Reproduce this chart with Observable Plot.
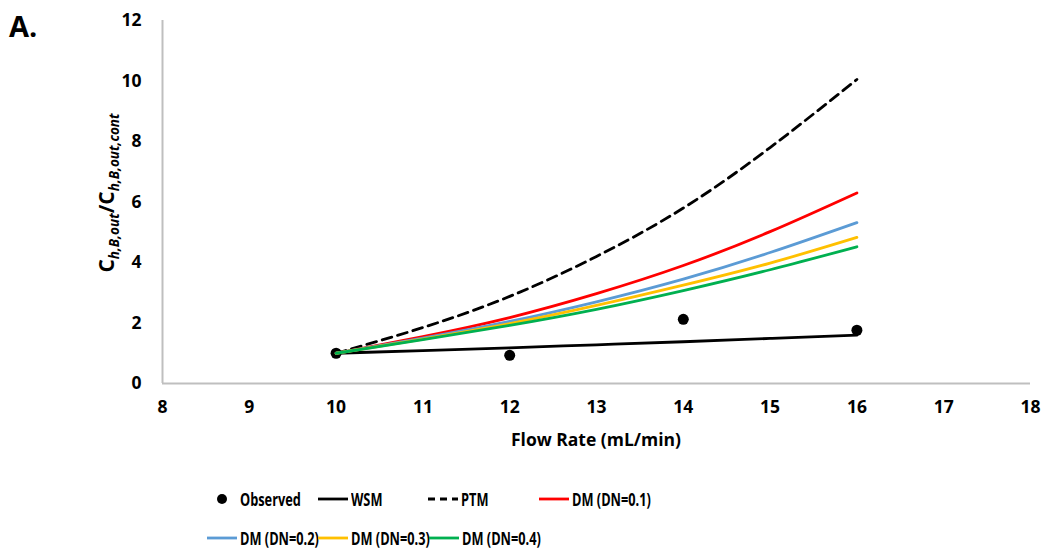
<!DOCTYPE html>
<html>
<head>
<meta charset="utf-8">
<script src="https://cdn.jsdelivr.net/npm/d3@7"></script>
<script src="https://cdn.jsdelivr.net/npm/@observablehq/plot@0.6"></script>
<style>
  body { margin: 0; background: #fff; font-family: "Open Sans", sans-serif; }
  #wrap { position: relative; width: 1044px; height: 549px; }
  #panel { position: absolute; left: 9px; top: 6px; font-size: 29px; font-weight: 700; font-family: "Open Sans", sans-serif; }
  #legend { position: absolute; left: 0; top: 0; width: 1044px; height: 549px; pointer-events: none; }
  .item { position: absolute; display: flex; align-items: center; font-size: 17.5px; font-weight: 700; white-space: nowrap; height: 22px;
          font-family: "Open Sans", sans-serif; }
  .item span { display: inline-block; transform: scaleX(0.73); transform-origin: left center; }
  .sym { width: 30px; height: 22px; margin-right: 3px; position: relative; }
</style>
</head>
<body>
<div id="wrap">
  <div id="chart"></div>
  <div id="panel">A.</div>
  <div id="legend"></div>
</div>
<script>
// ---- data ----
const flow = [10, 11, 12, 13, 14, 15, 16];
const observedFlow = [10, 12, 14, 16];
const observed = [1.0, 0.93, 2.12, 1.76];
const wsm = [1.0, 1.09, 1.18, 1.28, 1.38, 1.49, 1.6];
const ptm = [1.0, 1.85, 2.88, 4.2, 5.8, 7.8, 10.05];
const dm01 = [1.0, 1.55, 2.18, 2.97, 3.9, 5.02, 6.3];
const dm02 = [1.0, 1.5, 2.05, 2.7, 3.45, 4.33, 5.32];
const dm03 = [1.0, 1.47, 1.98, 2.58, 3.25, 3.98, 4.83];
const dm04 = [1.0, 1.45, 1.92, 2.45, 3.07, 3.76, 4.52];
const xTicks = [8, 9, 10, 11, 12, 13, 14, 15, 16, 17, 18];
const yTicks = [0, 2, 4, 6, 8, 10, 12];

const seriesNames = ["WSM", "PTM", "DM (DN=0.1)", "DM (DN=0.2)", "DM (DN=0.3)", "DM (DN=0.4)"];
const seriesValues = [wsm, ptm, dm01, dm02, dm03, dm04];
const seriesColors = ["#000000", "#000000", "#FF0000", "#5B9BD5", "#FFC000", "#00B050"];
const seriesDash = [null, "10,6", null, null, null, null];

const obsData = observedFlow.map((f, i) => ({flow: f, value: observed[i]}));
const lineMarks = seriesNames.map((name, s) =>
  Plot.line(flow.map((f, i) => ({flow: f, value: seriesValues[s][i]})), {
    x: "flow", y: "value", stroke: seriesColors[s], strokeWidth: 2.8,
    strokeDasharray: seriesDash[s] || undefined, curve: "natural"
  })
);

const font = "'Open Sans', sans-serif";
const chart = Plot.plot({
  width: 1044,
  height: 460,
  marginLeft: 162,
  marginRight: 14,
  marginTop: 20,
  marginBottom: 77,
  style: {fontFamily: font, fontSize: "17.5px", fontWeight: "700", color: "#000", background: "#fff"},
  x: {domain: [8, 18]},
  y: {domain: [0, 12]},
  marks: [
    Plot.axisX({ticks: xTicks, tickSize: 0, tickPadding: 17, label: null, tickFormat: d => d}),
    Plot.axisY({ticks: yTicks, tickSize: 0, tickPadding: 21, label: null, tickFormat: d => d}),
    Plot.ruleX([8], {stroke: "#BFBFBF", strokeWidth: 2}),
    Plot.ruleY([0], {stroke: "#BFBFBF", strokeWidth: 2}),
    Plot.dot(obsData, {x: "flow", y: "value", r: 5.5, fill: "#000", stroke: "none"}),
    ...lineMarks
  ]
});
document.getElementById("chart").appendChild(chart);

// axis titles
const svg = d3.select(chart);
svg.append("text")
  .attr("x", 596).attr("y", 446)
  .attr("text-anchor", "middle")
  .style("font-family", font).style("font-size", "17.5px").style("font-weight", "700")
  .attr("fill", "#000")
  .text("Flow Rate (mL/min)");

const yl = svg.append("text")
  .attr("transform", "translate(114,193) rotate(-90)")
  .attr("text-anchor", "middle")
  .style("font-family", font).style("font-weight", "700")
  .attr("fill", "#000");
yl.append("tspan").style("font-size", "21px").text("C");
yl.append("tspan").style("font-size", "13.5px").style("font-style", "italic").attr("dy", 5).text("h,B,out");
yl.append("tspan").style("font-size", "21px").attr("dy", -5).text("/C");
yl.append("tspan").style("font-size", "13.5px").style("font-style", "italic").attr("dy", 5).text("h,B,out,cont");

// legend
const legendItems = [
  {name: "Observed", type: "dot", color: "#000", left: 207, top: 488},
  {name: seriesNames[0], type: "line", color: seriesColors[0], dash: null, left: 318, top: 488},
  {name: seriesNames[1], type: "line", color: seriesColors[1], dash: seriesDash[1], left: 428, top: 488},
  {name: seriesNames[2], type: "line", color: seriesColors[2], dash: null, left: 539, top: 488},
  {name: seriesNames[3], type: "line", color: seriesColors[3], dash: null, left: 207, top: 527},
  {name: seriesNames[4], type: "line", color: seriesColors[4], dash: null, left: 318, top: 527},
  {name: seriesNames[5], type: "line", color: seriesColors[5], dash: null, left: 429, top: 527}
];
const leg = d3.select("#legend");
legendItems.forEach(it => {
  const d = leg.append("div").attr("class", "item").style("left", it.left + "px").style("top", it.top + "px");
  const s = d.append("svg").attr("class", "sym").attr("width", 30).attr("height", 22);
  if (it.type === "dot") {
    s.append("circle").attr("cx", 15).attr("cy", 11).attr("r", 5).attr("fill", it.color);
    s.style("margin-right", "3px");
  } else {
    s.append("line").attr("x1", 0).attr("x2", 30).attr("y1", 11).attr("y2", 11)
      .attr("stroke", it.color).attr("stroke-width", 2.8)
      .attr("stroke-dasharray", it.dash ? "7,5" : null);
  }
  d.append("span").text(it.name);
});
</script>
</body>
</html>
